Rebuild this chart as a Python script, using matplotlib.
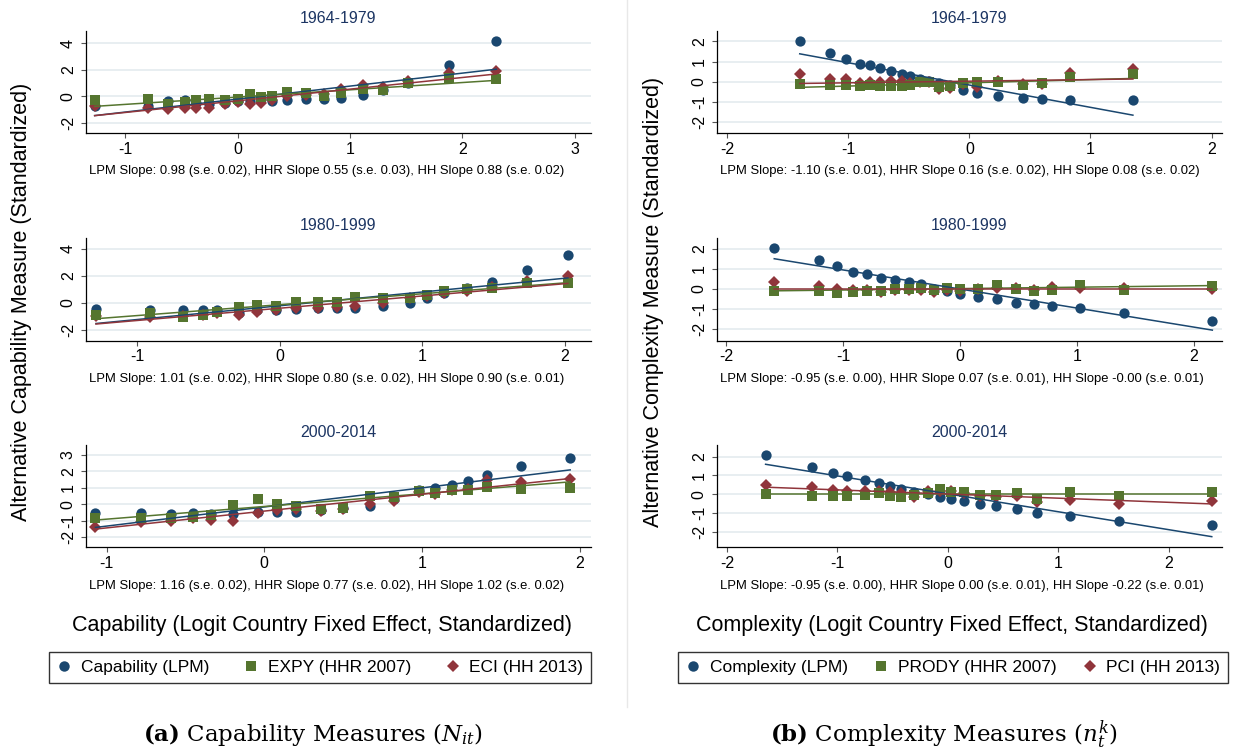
import numpy as np
import matplotlib
matplotlib.use("Agg")
import matplotlib.pyplot as plt
from matplotlib.lines import Line2D

plt.rcParams['font.family'] = ['Liberation Sans', 'DejaVu Sans']
plt.rcParams['mathtext.fontset'] = 'dejavuserif'

NAVY = '#1a476f'
MAROON = '#90353b'
OLIVE = '#55752f'
TITLE_C = '#1c3563'
GRID_C = '#e1e9ee'

# ---------------- data: capability (left column) ----------------
cap1_x   = [-1.27, -0.80, -0.62, -0.47, -0.37, -0.25, -0.11, 0.00, 0.11, 0.21,
            0.31, 0.44, 0.61, 0.77, 0.92, 1.12, 1.29, 1.52, 1.88, 2.30]
cap1_lpm = [-0.70, -0.70, -0.35, -0.30, -0.50, -0.55, -0.50, -0.35, -0.35, -0.20,
            -0.35, -0.25, -0.20, -0.20, -0.10, 0.13, 0.50, 1.00, 2.39, 4.20]
cap1_hhr = [-0.25, -0.20, -0.55, -0.45, -0.30, -0.20, -0.25, -0.20, 0.20, -0.05,
            0.05, 0.30, 0.25, 0.05, 0.25, 0.55, 0.45, 1.00, 1.40, 1.35]
cap1_hh  = [-0.75, -0.85, -0.95, -0.85, -0.85, -0.85, -0.60, -0.45, -0.55, -0.50,
            -0.30, 0.00, 0.10, 0.15, 0.55, 0.85, 0.70, 1.20, 1.80, 1.95]

cap2_x   = [-1.29, -0.91, -0.68, -0.54, -0.44, -0.29, -0.16, -0.03, 0.11, 0.27,
            0.40, 0.53, 0.72, 0.91, 1.03, 1.15, 1.31, 1.49, 1.73, 2.02]
cap2_lpm = [-0.45, -0.50, -0.50, -0.50, -0.50, -0.70, -0.50, -0.50, -0.45, -0.40,
            -0.40, -0.35, -0.20, 0.00, 0.35, 0.70, 1.10, 1.55, 2.45, 3.50]
cap2_hhr = [-0.90, -0.75, -1.05, -0.85, -0.65, -0.30, -0.15, -0.25, 0.10, 0.05,
            0.10, 0.45, 0.35, 0.35, 0.60, 0.85, 1.00, 1.10, 1.50, 1.50]
cap2_hh  = [-0.95, -1.05, -0.95, -0.85, -0.75, -0.85, -0.65, -0.50, -0.40, -0.35,
            -0.30, -0.20, 0.00, 0.35, 0.55, 0.70, 0.90, 1.15, 1.65, 1.95]

cap3_x   = [-1.07, -0.78, -0.59, -0.45, -0.34, -0.20, -0.04, 0.08, 0.20, 0.36,
            0.50, 0.67, 0.82, 0.98, 1.08, 1.19, 1.29, 1.41, 1.63, 1.94]
cap3_lpm = [-0.55, -0.55, -0.60, -0.55, -0.60, -0.60, -0.45, -0.45, -0.45, -0.35,
            -0.25, -0.10, 0.30, 0.85, 1.00, 1.20, 1.40, 1.80, 2.35, 2.80]
cap3_hhr = [-0.85, -0.80, -0.85, -0.75, -0.65, -0.05, 0.30, 0.00, -0.10, -0.30,
            -0.20, 0.50, 0.45, 0.80, 0.70, 0.85, 0.90, 1.05, 0.95, 1.00]
cap3_hh  = [-1.35, -1.10, -1.00, -0.85, -0.95, -1.00, -0.50, -0.35, -0.30, -0.40,
            -0.30, 0.00, 0.20, 0.75, 0.60, 0.85, 0.95, 1.45, 1.35, 1.55]

# ---------------- data: complexity (right column) ----------------
cpx1_x   = [-1.40, -1.15, -1.02, -0.90, -0.82, -0.74, -0.65, -0.56, -0.49, -0.41,
            -0.33, -0.25, -0.16, -0.05, 0.06, 0.24, 0.44, 0.60, 0.83, 1.35]
cpx1_lpm = [2.00, 1.40, 1.12, 0.90, 0.82, 0.68, 0.55, 0.40, 0.28, 0.12,
            0.05, -0.05, -0.15, -0.40, -0.55, -0.68, -0.80, -0.85, -0.88, -0.92]
cpx1_hhr = [-0.12, -0.18, -0.15, -0.22, -0.18, -0.22, -0.22, -0.22, -0.18, 0.00,
            -0.02, -0.28, -0.20, -0.08, 0.00, 0.00, -0.15, -0.05, 0.25, 0.38]
cpx1_hh  = [0.38, 0.15, 0.12, -0.05, 0.00, 0.00, 0.05, 0.02, -0.05, 0.00,
            0.00, -0.35, -0.30, -0.10, -0.25, 0.05, -0.10, -0.10, 0.45, 0.62]

cpx2_x   = [-1.59, -1.21, -1.05, -0.92, -0.80, -0.68, -0.56, -0.44, -0.33, -0.22,
            -0.11, 0.00, 0.15, 0.32, 0.48, 0.63, 0.79, 1.03, 1.40, 2.16]
cpx2_lpm = [2.03, 1.45, 1.12, 0.85, 0.72, 0.52, 0.45, 0.35, 0.22, 0.00,
            -0.10, -0.25, -0.40, -0.50, -0.70, -0.78, -0.85, -0.98, -1.22, -1.60]
cpx2_hhr = [-0.10, -0.10, -0.20, -0.15, -0.10, -0.10, 0.00, 0.00, 0.05, -0.05,
            0.05, 0.00, 0.00, 0.20, 0.00, -0.10, -0.05, 0.20, -0.05, 0.15]
cpx2_hh  = [0.35, 0.12, 0.00, -0.05, -0.05, -0.15, -0.05, -0.05, -0.05, -0.15,
            -0.05, -0.10, 0.00, 0.05, 0.05, -0.05, 0.08, 0.05, 0.05, -0.02]

cpx3_x   = [-1.65, -1.23, -1.04, -0.91, -0.75, -0.62, -0.52, -0.42, -0.31, -0.18,
            -0.07, 0.03, 0.15, 0.29, 0.44, 0.63, 0.81, 1.11, 1.55, 2.39]
cpx3_lpm = [2.10, 1.45, 1.15, 0.97, 0.73, 0.57, 0.45, 0.30, 0.12, 0.00,
            -0.15, -0.25, -0.35, -0.52, -0.65, -0.80, -0.98, -1.18, -1.40, -1.63]
cpx3_hhr = [0.02, -0.10, -0.08, -0.12, -0.02, 0.05, -0.08, -0.15, -0.02, 0.05,
            0.28, 0.10, 0.12, -0.05, -0.05, 0.05, -0.25, 0.10, -0.12, 0.10]
cpx3_hh  = [0.48, 0.38, 0.25, 0.15, 0.15, 0.15, 0.10, 0.05, -0.15, 0.15,
            0.15, 0.15, 0.05, -0.10, -0.15, -0.12, -0.40, -0.33, -0.52, -0.38]

# linear fits: (slope, intercept) for LPM, HHR, HH
cap1_fit = [(0.98, -0.20), (0.55, -0.05), (0.88, -0.33)]
cap2_fit = [(1.01, -0.20), (0.80, -0.12), (0.90, -0.38)]
cap3_fit = [(1.16, -0.16), (0.77, -0.13), (1.02, -0.41)]
cpx1_fit = [(-1.10, -0.16), (0.16, -0.05), (0.08, 0.03)]
cpx2_fit = [(-0.95, -0.01), (0.07, 0.01), (0.00, 0.00)]
cpx3_fit = [(-0.95, 0.02), (0.00, 0.00), (-0.22, 0.01)]

periods = ['1964-1979', '1980-1999', '2000-2014']
cap_notes = ['LPM Slope: 0.98 (s.e. 0.02), HHR Slope 0.55 (s.e. 0.03), HH Slope 0.88 (s.e. 0.02)',
             'LPM Slope: 1.01 (s.e. 0.02), HHR Slope 0.80 (s.e. 0.02), HH Slope 0.90 (s.e. 0.01)',
             'LPM Slope: 1.16 (s.e. 0.02), HHR Slope 0.77 (s.e. 0.02), HH Slope 1.02 (s.e. 0.02)']
cpx_notes = ['LPM Slope: -1.10 (s.e. 0.01), HHR Slope 0.16 (s.e. 0.02), HH Slope 0.08 (s.e. 0.02)',
             'LPM Slope: -0.95 (s.e. 0.00), HHR Slope 0.07 (s.e. 0.01), HH Slope -0.00 (s.e. 0.01)',
             'LPM Slope: -0.95 (s.e. 0.00), HHR Slope 0.00 (s.e. 0.01), HH Slope -0.22 (s.e. 0.01)']

cap_legend = ['Capability (LPM)', 'EXPY (HHR 2007)', 'ECI (HH 2013)']
cpx_legend = ['Complexity (LPM)', 'PRODY (HHR 2007)', 'PCI (HH 2013)']

# ---------------- layout ----------------
W, H = 1233, 753
fig = plt.figure(figsize=(W / 100, H / 100), dpi=100)
fig.patch.set_facecolor('white')

def fx(px):
    return px / W

def fy(py):
    return 1 - py / H

col_left = [86, 717]
ax_w = 504.7
row_top = [30.7, 238.3, 445.0]
ax_h = 102.2

panels = [
    (0, 0, cap1_x, cap1_lpm, cap1_hhr, cap1_hh, cap1_fit, (-1.347, 3.14), (-2.75, 4.96), [-1, 0, 1, 2, 3], [-2, 0, 2, 4], cap_notes[0]),
    (0, 1, cap2_x, cap2_lpm, cap2_hhr, cap2_hh, cap2_fit, (-1.36, 2.18), (-2.75, 4.75), [-1, 0, 1, 2], [-2, 0, 2, 4], cap_notes[1]),
    (0, 2, cap3_x, cap3_lpm, cap3_hhr, cap3_hh, cap3_fit, (-1.13, 2.07), (-2.6, 3.6), [-1, 0, 1, 2], [-2, -1, 0, 1, 2, 3], cap_notes[2]),
    (1, 0, cpx1_x, cpx1_lpm, cpx1_hhr, cpx1_hh, cpx1_fit, (-2.083, 2.083), (-2.52, 2.52), [-2, -1, 0, 1, 2], [-2, -1, 0, 1, 2], cpx_notes[0]),
    (1, 1, cpx2_x, cpx2_lpm, cpx2_hhr, cpx2_hh, cpx2_fit, (-2.08, 2.24), (-2.58, 2.52), [-2, -1, 0, 1, 2], [-2, -1, 0, 1, 2], cpx_notes[1]),
    (1, 2, cpx3_x, cpx3_lpm, cpx3_hhr, cpx3_hh, cpx3_fit, (-2.09, 2.48), (-2.81, 2.61), [-2, -1, 0, 1, 2], [-2, -1, 0, 1, 2], cpx_notes[2]),
]

for col, row, x, lpm, hhr, hh, fit, xlim, ylim, xt, yt, note in panels:
    x0 = col_left[col]
    y0 = row_top[row]
    ax = fig.add_axes([fx(x0), fy(y0 + ax_h), ax_w / W, ax_h / H])
    ax.set_facecolor('white')
    ax.set_xlim(*xlim)
    ax.set_ylim(*ylim)
    ax.set_xticks(xt)
    ax.set_yticks(yt)
    ax.set_xticklabels([str(v) for v in xt])
    ax.set_yticklabels([str(v) for v in yt], rotation=90, va='center')
    ax.yaxis.grid(True, color=GRID_C, lw=1.1, zorder=0)
    ax.set_axisbelow(True)
    for s in ['top', 'right']:
        ax.spines[s].set_visible(False)
    for s in ['left', 'bottom']:
        ax.spines[s].set_color('black')
        ax.spines[s].set_linewidth(0.9)
    ax.tick_params(axis='both', length=3.8, width=0.8, color='#555555',
                   labelsize=11.5, pad=2.5)
    ax.tick_params(axis='y', pad=3.5)

    xa = np.asarray(x)
    ax.plot(xa, lpm, 'o', color=NAVY, ms=7.4, mew=0, zorder=3)
    ax.plot(xa, hh, 'D', color=MAROON, ms=6.3, mew=0, zorder=4)
    ax.plot(xa, hhr, 's', color=OLIVE, ms=7.0, mew=0, zorder=5)
    xe = np.array([xa.min(), xa.max()])
    for (b, a), c, z in zip(fit, [NAVY, OLIVE, MAROON], [6, 7, 8]):
        ax.plot(xe, a + b * xe, '-', color=c, lw=1.1, zorder=z)

    fig.text(fx(x0 + ax_w / 2), fy(y0 - 12.5), periods[row], ha='center', va='center',
             fontsize=11.5, color=TITLE_C)
    fig.text(fx(x0 + 3), fy(y0 + ax_h + 38.5), note, ha='left', va='center',
             fontsize=9.35, color='black')

# axis titles
fig.text(fx(22), fy(302), 'Alternative Capability Measure (Standardized)', rotation=90,
         ha='center', va='center', fontsize=15.5)
fig.text(fx(653), fy(302), 'Alternative Complexity Measure (Standardized)', rotation=90,
         ha='center', va='center', fontsize=15.5)
fig.text(fx(322), fy(625), 'Capability (Logit Country Fixed Effect, Standardized)',
         ha='center', va='center', fontsize=15.5)
fig.text(fx(952), fy(625), 'Complexity (Logit Country Fixed Effect, Standardized)',
         ha='center', va='center', fontsize=15.5)

# legends
def make_handles():
    return [Line2D([], [], ls='none', marker='o', color=NAVY, ms=7.5, mew=0),
            Line2D([], [], ls='none', marker='s', color=OLIVE, ms=7, mew=0),
            Line2D([], [], ls='none', marker='D', color=MAROON, ms=6.5, mew=0)]

for (lx0, lx1), labels in [((48.7, 591.0), cap_legend), ((677.7, 1228.0), cpx_legend)]:
    ly0, ly1 = 650.7, 685.0
    leg = fig.legend(make_handles(), labels, ncol=3, mode='expand',
                     bbox_to_anchor=(fx(lx0), fy(ly1), (lx1 - lx0) / W, (ly1 - ly0) / H),
                     loc='center', borderaxespad=0, frameon=True, fancybox=False,
                     edgecolor='black', fontsize=12.5, handlelength=0.9, handletextpad=0.5,
                     borderpad=0.45, columnspacing=1.0)
    leg.get_frame().set_linewidth(1.0)

# divider
fig.add_artist(Line2D([fx(627.3), fx(627.3)], [fy(0), fy(707)], color='#e8e8e8', lw=1.0))

# captions
fig.text(fx(313), fy(735), r'$\mathbf{(a)}$ Capability Measures ($N_{it}$)',
         ha='center', va='center', fontsize=16.5, family='DejaVu Serif')
fig.text(fx(944), fy(735), r'$\mathbf{(b)}$ Complexity Measures ($n_t^k$)',
         ha='center', va='center', fontsize=16.5, family='DejaVu Serif')

fig.savefig('out.png', dpi=100, facecolor='white')
